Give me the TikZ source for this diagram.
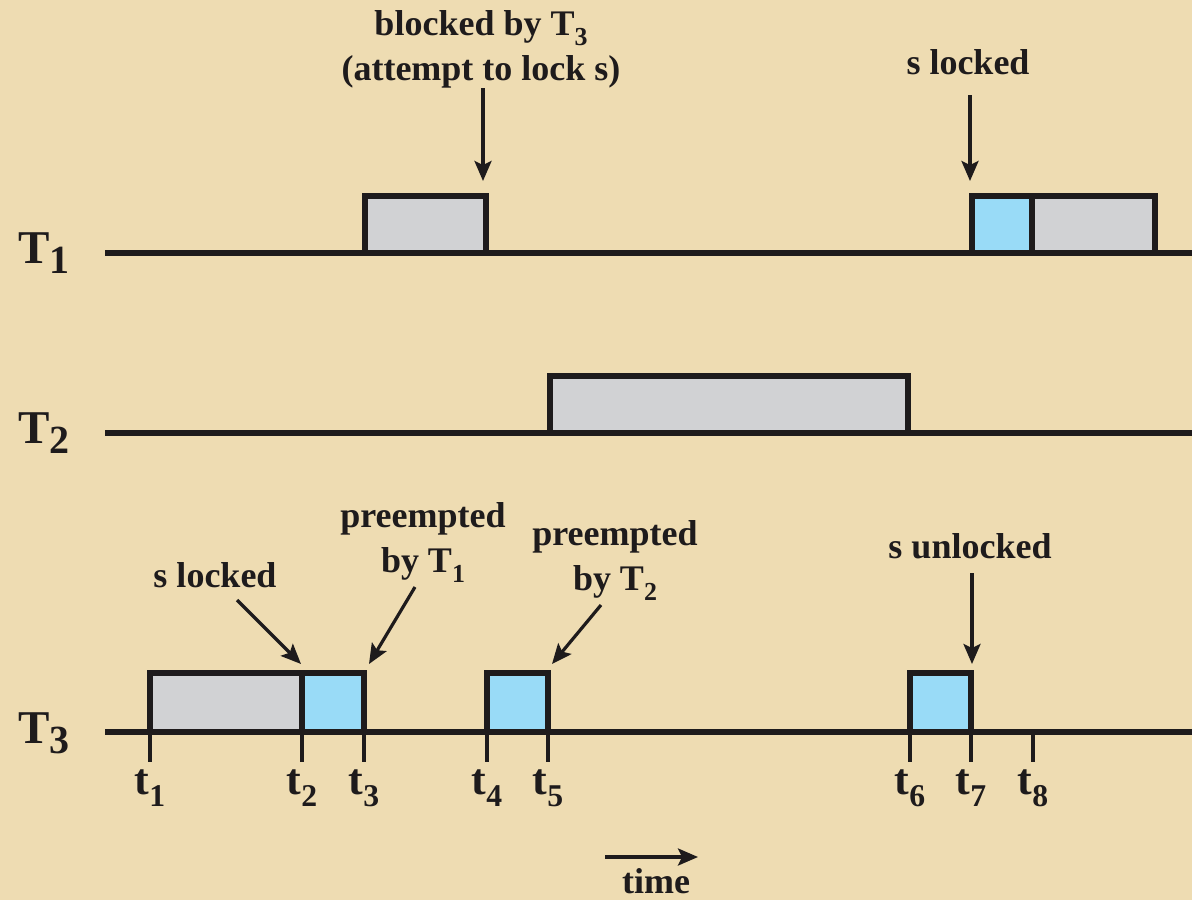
\documentclass[tikz,border=0pt]{standalone}
\usepackage{fontspec}
\setmainfont{Liberation Serif}
\usepackage{graphicx}
\usetikzlibrary{arrows.meta}
\definecolor{bg}{RGB}{238,220,178}
\definecolor{ink}{RGB}{30,27,28}
\definecolor{grayfill}{RGB}{209,210,212}
\definecolor{bluefill}{RGB}{153,219,247}
\newcommand{\subx}[1]{\raisebox{-0.28em}{\scalebox{0.72}{#1}}}
\newcommand{\subT}[1]{\raisebox{-0.22em}{\scalebox{0.85}{#1}}}
\begin{document}
\begin{tikzpicture}[x=1pt,y=-1pt,
  timeline/.style={draw=ink,line width=6pt},
  tick/.style={draw=ink,line width=3.2pt},
  taskbox/.style={draw=ink,line width=6.5pt,inner sep=0pt,outer sep=0pt},
  graybox/.style={taskbox,fill=grayfill},
  bluebox/.style={taskbox,fill=bluefill},
  lbl/.style={text=ink,font=\fontsize{36}{45}\selectfont\bfseries,align=center,inner sep=0pt},
  tlbl/.style={text=ink,font=\fontsize{44}{44}\selectfont\bfseries,inner sep=0pt,anchor=base},
  Tlbl/.style={text=ink,font=\fontsize{47}{47}\selectfont\bfseries,inner sep=0pt,anchor=base west},
  pointer/.style={draw=ink,line width=3.2pt,-{Stealth[length=20pt,width=17pt,inset=4pt]}}
]
\fill[bg] (0,0) rectangle (1192,900);
\useasboundingbox (0,0) rectangle (1192,900);

% timelines
\coordinate (L1a) at (105,253); \coordinate (L1b) at (1192,253);
\coordinate (L2a) at (105,433); \coordinate (L2b) at (1192,433);
\coordinate (L3a) at (105,732); \coordinate (L3b) at (1192,732);
\draw[timeline] (L1a) -- (L1b);
\draw[timeline] (L2a) -- (L2b);
\draw[timeline] (L3a) -- (L3b);

% task labels
\node[Tlbl] (T1) at (18,263) {T\subT{1}};
\node[Tlbl] (T2) at (18,443) {T\subT{2}};
\node[Tlbl] (T3) at (18,743) {T\subT{3}};

% T1 boxes
\node[graybox,minimum width=121,minimum height=57] (b11) at (425.5,224.5) {};
\node[bluebox,minimum width=60,minimum height=57] (b12) at (1002,224.5) {};
\node[graybox,minimum width=123,minimum height=57] (b13) at (1093.5,224.5) {};
% T2 box
\node[graybox,minimum width=358,minimum height=57] (b21) at (729,404.5) {};
% T3 boxes
\node[graybox,minimum width=152,minimum height=59] (b31) at (226,702.5) {};
\node[bluebox,minimum width=62,minimum height=59] (b32) at (333,702.5) {};
\node[bluebox,minimum width=61,minimum height=59] (b33) at (517.5,702.5) {};
\node[bluebox,minimum width=61,minimum height=59] (b34) at (940.5,702.5) {};

% ticks and time labels
\foreach \x/\i in {150/1,302/2,364/3,487/4,548/5,910/6,971/7,1033/8}{
  \coordinate (k\i) at (\x,732);
  \coordinate (kb\i) at (\x,762);
  \draw[tick] (k\i) -- (kb\i);
  \node[tlbl] (t\i) at (\x,794) {t\subx{\i}};
}

% annotations
\node[lbl,anchor=base] (blk) at (481,80) {blocked by T\subx{3}\\(attempt to lock s)};
\coordinate (blkS) at (483,88); \coordinate (blkE) at (483,181);
\draw[pointer] (blkS) -- (blkE);

\node[lbl,anchor=base] (slk1) at (968,74) {s locked};
\coordinate (slk1S) at (970,95); \coordinate (slk1E) at (970,181);
\draw[pointer] (slk1S) -- (slk1E);

\node[lbl,anchor=base] (slk3) at (215,587) {s locked};
\coordinate (slk3S) at (237,600); \coordinate (slk3E) at (301,664);
\draw[pointer] (slk3S) -- (slk3E);

\node[lbl,anchor=base] (pre1) at (423,572) {preempted\\by T\subx{1}};
\coordinate (pre1S) at (415,587); \coordinate (pre1E) at (369,664);
\draw[pointer] (pre1S) -- (pre1E);

\node[lbl,anchor=base] (pre2) at (615,590) {preempted\\by T\subx{2}};
\coordinate (pre2S) at (601,605); \coordinate (pre2E) at (552,664);
\draw[pointer] (pre2S) -- (pre2E);

\node[lbl,anchor=base] (sul) at (970,558) {s unlocked};
\coordinate (sulS) at (972,573); \coordinate (sulE) at (972,664);
\draw[pointer] (sulS) -- (sulE);

\coordinate (timeS) at (605,857); \coordinate (timeE) at (698,857);
\draw[pointer] (timeS) -- (timeE);
\node[lbl,anchor=base] (time) at (656,893) {time};
\end{tikzpicture}
\end{document}
